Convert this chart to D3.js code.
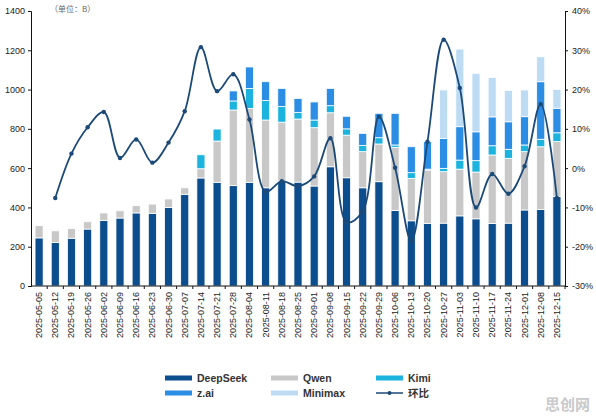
<!DOCTYPE html>
<html>
<head>
<meta charset="utf-8">
<script src="https://cdn.jsdelivr.net/npm/d3@7"></script>
<style>
  body { margin: 0; background: #fff; }
  svg { display: block; font-family: "Liberation Sans", Arial, sans-serif; }
</style>
</head>
<body>
<svg id="chart" width="596" height="420"></svg>
<script>

//
//**   Dane   **/
//

var weeks = ["2025-05-05","2025-05-12","2025-05-19","2025-05-26","2025-06-02","2025-06-09","2025-06-16",
  "2025-06-23","2025-06-30","2025-07-07","2025-07-14","2025-07-21","2025-07-28","2025-08-04","2025-08-11",
  "2025-08-18","2025-08-25","2025-09-01","2025-09-08","2025-09-15","2025-09-22","2025-09-29","2025-10-06",
  "2025-10-13","2025-10-20","2025-10-27","2025-11-03","2025-11-10","2025-11-17","2025-11-24","2025-12-01",
  "2025-12-08","2025-12-15"];

var deepseek = [245,222,243,290,334,346,372,370,400,467,550,528,511,528,500,534,529,509,607,551,500,531,385,332,319,320,357,342,318,320,387,390,455];
var qwen     = [62,59,49,37,38,37,37,47,43,33,47,210,385,376,345,300,321,297,275,217,184,192,321,216,271,262,238,238,349,330,297,319,280];
var kimi     = [0,0,0,0,0,0,0,0,0,0,71,61,46,102,100,80,34,39,36,32,32,32,12,29,5,17,46,58,47,46,34,38,45];
var zai      = [0,0,0,0,0,0,0,0,0,0,0,0,51,109,95,92,71,92,88,64,61,124,161,132,140,152,170,147,147,140,144,293,125];
var minimax  = [0,0,0,0,0,0,0,0,0,0,0,0,0,0,0,0,0,0,0,0,0,0,0,0,7,247,395,298,201,160,136,127,96];

// 环比, %
var huanbi = [null,-7.6,3.7,10.4,14.3,2.6,7.3,1.4,6.5,14.5,30.8,19.6,23.9,12.4,-6.0,-3.3,-4.6,-2.1,7.6,-13.8,-11.0,13.1,0.1,-18.5,6.7,32.7,20.4,-10.0,-1.5,-6.5,0.5,16.3,-7.6];

var leftTicks  = [0,200,400,600,800,1000,1200,1400];
var rightTicks = [-30,-20,-10,0,10,20,30,40];

var seriesNames = ["DeepSeek","Qwen","Kimi","z.ai","Minimax"];
var seriesValues = [deepseek, qwen, kimi, zai, minimax];
var colours = ["#0b4d8d","#c8c8c8","#1cb4de","#2b8de4","#bddcf4"];
var lineColour = "#1c4a78";

//
//**   Osie   **/
//

var svg = d3.select("#chart");
var pLeft = 31, pRight = 565, pTop = 11, pBottom = 286;

var table = weeks.map(function(w, i) {
  var row = {week: w};
  seriesNames.forEach(function(n, k) { row[n] = seriesValues[k][i]; });
  return row;
});

var stack = d3.stack().keys(seriesNames)(table);

var x = d3.scaleBand()
    .domain(weeks)
    .range([pLeft, pRight])
    .paddingInner(0.5)
    .paddingOuter(0.25);

var y = d3.scaleLinear()
    .domain([0,1400])
    .range([pBottom, pTop]);

var y2 = d3.scaleLinear()
    .domain([-30,40])
    .range([pBottom, pTop]);

// slupki
svg.append("g")
  .selectAll("g")
  .data(stack)
  .enter().append("g")
    .attr("fill", function(d, k) { return colours[k]; })
  .selectAll("rect")
  .data(function(d) { return d.filter(function(s) { return s[1] - s[0] > 0; }); })
  .enter().append("rect")
    .attr("x", function(d) { return x(d.data.week); })
    .attr("width", x.bandwidth())
    .attr("y", function(d) { return y(d[1]); })
    .attr("height", function(d) { return y(d[0]) - y(d[1]); })
    .attr("stroke", "#fff")
    .attr("stroke-width", 0.8);

var yAxis = d3.axisLeft(y)
    .tickValues(leftTicks)
    .tickSize(3)
    .tickPadding(3)
    .tickFormat(d3.format("d"));

var gY = svg.append("g")
    .attr("transform", "translate(" + pLeft + ",0)")
    .call(yAxis);

var y2Axis = d3.axisRight(y2)
    .tickValues(rightTicks)
    .tickSize(3)
    .tickPadding(4)
    .tickFormat(function(d) { return d + "%"; });

var gY2 = svg.append("g")
    .attr("transform", "translate(" + pRight + ",0)")
    .call(y2Axis);

[gY, gY2].forEach(function(g) {
  g.select(".domain").attr("stroke", "#111");
  g.selectAll(".tick line").attr("stroke", "#111");
  g.selectAll("text")
    .style("font-size", "9px")
    .style("fill", "#222");
});

// os X
var gX = svg.append("g");

gX.append("line")
    .attr("x1", pLeft).attr("x2", pRight)
    .attr("y1", pBottom).attr("y2", pBottom)
    .attr("stroke", "#111");

gX.selectAll("line.tk")
  .data(weeks)
  .enter().append("line")
    .attr("class", "tk")
    .attr("x1", function(d) { return x(d) + x.bandwidth()/2 + x.step()/2; })
    .attr("x2", function(d) { return x(d) + x.bandwidth()/2 + x.step()/2; })
    .attr("y1", pBottom)
    .attr("y2", pBottom + 3)
    .attr("stroke", "#111");

gX.selectAll("text")
  .data(weeks)
  .enter().append("text")
    .attr("transform", function(d) {
      return "translate(" + (x(d) + x.bandwidth()/2 + 3) + "," + (pBottom + 6) + ") rotate(-90)";
    })
    .style("text-anchor", "end")
    .style("font-size", "9px")
    .style("fill", "#222")
    .text(function(d) { return d; });

//
//**   Linia 环比   **/
//

var pts = weeks.map(function(w, i) { return {week: w, v: huanbi[i]}; })
    .filter(function(d) { return d.v !== null; });

var line = d3.line()
    .x(function(d) { return x(d.week) + x.bandwidth()/2; })
    .y(function(d) { return y2(d.v); })
    .curve(d3.curveCatmullRom.alpha(0.5));

svg.append("path")
    .datum(pts)
    .attr("d", line)
    .attr("fill", "none")
    .attr("stroke", lineColour)
    .attr("stroke-width", 1.8);

svg.selectAll("circle.pt")
  .data(pts)
  .enter().append("circle")
    .attr("class", "pt")
    .attr("cx", function(d) { return x(d.week) + x.bandwidth()/2; })
    .attr("cy", function(d) { return y2(d.v); })
    .attr("r", 2.2)
    .attr("fill", lineColour);

//
//**   Napisy i legenda   **/
//

svg.append("text")
    .attr("x", 50)
    .attr("y", 12)
    .style("font-family", "'Noto Sans CJK SC', sans-serif")
    .style("font-size", "8px")
    .style("fill", "#666")
    .text("（单位：B）");

var legendItems = [
  {name: "DeepSeek", colour: colours[0], x: 165, y: 378},
  {name: "Qwen",     colour: colours[1], x: 271, y: 378},
  {name: "Kimi",     colour: colours[2], x: 376, y: 378},
  {name: "z.ai",     colour: colours[3], x: 165, y: 393},
  {name: "Minimax",  colour: colours[4], x: 271, y: 393}
];

var lg = svg.append("g");

lg.selectAll("rect")
  .data(legendItems)
  .enter().append("rect")
    .attr("x", function(d) { return d.x; })
    .attr("y", function(d) { return d.y - 2.5; })
    .attr("width", 27)
    .attr("height", 5)
    .attr("fill", function(d) { return d.colour; });

lg.selectAll("text.it")
  .data(legendItems.concat([{name: "环比", x: 376, y: 393}]))
  .enter().append("text")
    .attr("class", "it")
    .attr("x", function(d) { return d.x + 32; })
    .attr("y", function(d) { return d.y + 4; })
    .style("font-family", "'Liberation Sans', 'Noto Sans CJK SC', sans-serif")
    .style("font-size", "10.5px")
    .style("font-weight", "bold")
    .style("fill", "#333")
    .text(function(d) { return d.name; });

lg.append("line")
    .attr("x1", 376).attr("x2", 403)
    .attr("y1", 393).attr("y2", 393)
    .attr("stroke", lineColour)
    .attr("stroke-width", 1.5);

lg.append("circle")
    .attr("cx", 389.5).attr("cy", 393)
    .attr("r", 2)
    .attr("fill", lineColour);

svg.append("text")
    .attr("x", 590)
    .attr("y", 410)
    .style("text-anchor", "end")
    .style("font-family", "'Noto Sans CJK SC', sans-serif")
    .style("font-size", "15px")
    .style("font-weight", "bold")
    .style("fill", "#c9c9c9")
    .text("思创网");

</script>
</body>
</html>
